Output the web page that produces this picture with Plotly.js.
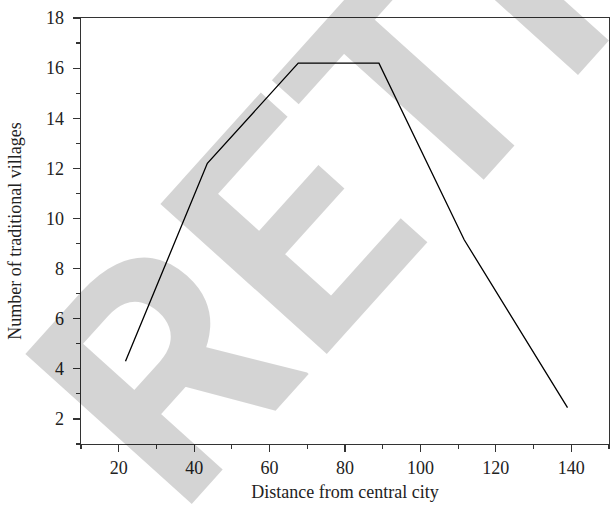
<!DOCTYPE html>
<html>
<head>
<meta charset="utf-8">
<script src="https://cdn.plot.ly/plotly-3.0.1.min.js"></script>
<style>html,body{margin:0;padding:0;background:#fff;}#chart{width:610px;height:511px;}</style>
</head>
<body>
<div id="chart"></div>
<script>
// Data
const distance = [21.8, 43.5, 67.6, 89.0, 111.6, 139.0];
const villages = [4.3, 12.2, 16.2, 16.2, 9.15, 2.45];
const xTitle = "Distance from central city";
const yTitle = "Number of traditional villages";
const watermark = "RETRACTED";

const serif = "Liberation Serif, Times New Roman, serif";

const trace = {
  x: distance,
  y: villages,
  type: "scatter",
  mode: "lines",
  line: {color: "#000", width: 1.3},
  hoverinfo: "skip"
};

const axisCommon = {
  showgrid: false,
  zeroline: false,
  showline: true,
  linecolor: "#333",
  linewidth: 1.3,
  mirror: true,
  ticks: "outside",
  ticklen: 7,
  tickwidth: 1.2,
  tickcolor: "#333",
  tickfont: {family: serif, size: 18, color: "#222"}
};

const layout = {
  width: 610,
  height: 511,
  margin: {l: 81, r: 1, t: 18, b: 67},
  paper_bgcolor: "#fff",
  plot_bgcolor: "#fff",
  showlegend: false,
  xaxis: Object.assign({}, axisCommon, {
    range: [10, 150],
    tick0: 0,
    dtick: 20,
    minor: {dtick: 10, ticks: "outside", ticklen: 4, tickcolor: "#333", tickwidth: 1.2},
    title: {text: xTitle, font: {family: serif, size: 18, color: "#222"}, standoff: 8}
  }),
  yaxis: Object.assign({}, axisCommon, {
    range: [1, 18],
    tick0: 0,
    dtick: 2,
    ticklabelstandoff: 5,
    minor: {dtick: 1, ticks: "outside", ticklen: 4, tickcolor: "#333", tickwidth: 1.2},
    title: {text: yTitle, font: {family: serif, size: 18, color: "#222"}, standoff: 19}
  }),
  annotations: [{
    text: watermark,
    xref: "paper", yref: "paper",
    x: 1.152, y: 1.535,
    xanchor: "center", yanchor: "middle",
    showarrow: false,
    textangle: -48,
    font: {family: "Roboto, Liberation Sans, Arial, sans-serif", size: 315, weight: "bold", color: "rgba(0,0,0,0.17)"}
  }]
};

Plotly.newPlot("chart", [trace], layout, {displayModeBar: false, staticPlot: true});
</script>
</body>
</html>
